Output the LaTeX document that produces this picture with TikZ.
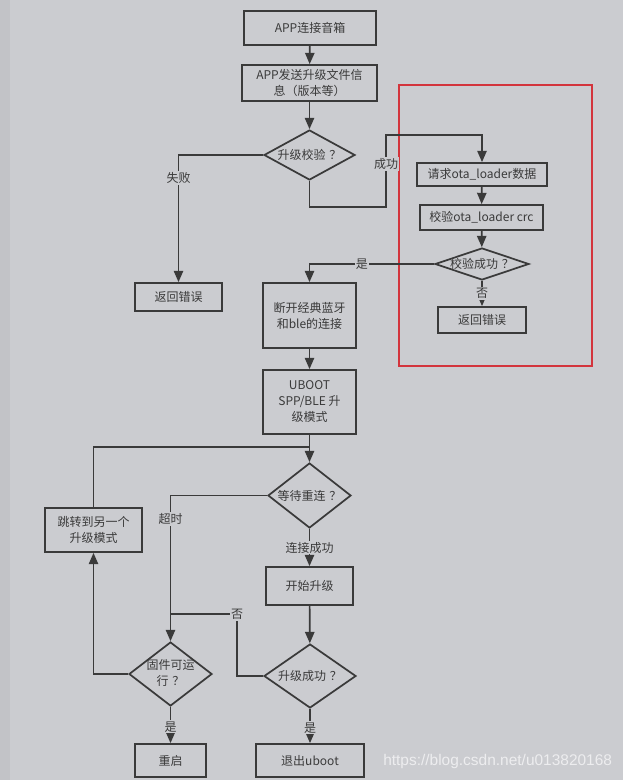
\documentclass[tikz,border=0pt]{standalone}
\usepackage{fontspec}
\usepackage{xcolor}
\usetikzlibrary{arrows.meta,shapes.geometric}
\newfontfamily\cjk{Noto Sans CJK SC}
\newfontfamily\urlfont{Liberation Sans}
\definecolor{FlowBack}{HTML}{CBCCD0}
\definecolor{FlowStrip}{HTML}{C2C3C7}
\definecolor{FlowInk}{HTML}{3A3A3A}
\definecolor{FlowRed}{HTML}{D3343C}
\definecolor{FlowMark}{HTML}{EDEDEF}
% text of a decision is kept out of the diamond's size
\newcommand{\dtext}[1]{\makebox[0pt]{#1}}
\newcommand{\qm}{\kern0.3em？}
\tikzset{
  box/.style={
    draw=FlowInk,
    line width=1.3pt,
    text=FlowInk,
    font=\cjk\fontsize{9}{12}\selectfont,
    align=center,
    inner sep=1pt
  },
  decision/.style={
    box,
    shape=diamond,
    inner sep=0pt
  },
  flow/.style={
    -{Triangle[length=8.5pt,width=7pt]},
    draw=FlowInk,
    line width=1.3pt
  },
  link/.style={
    draw=FlowInk,
    line width=1.3pt
  },
  lab/.style={
    fill=FlowBack,
    text=FlowInk,
    font=\cjk\fontsize{9}{11}\selectfont,
    inner sep=1pt
  },
  watermark/.style={
    text=FlowMark,
    font=\urlfont\fontsize{11.6}{13}\selectfont,
    inner sep=0pt
  }
}

\begin{document}
\begin{tikzpicture}[x=0.75pt,y=-0.75pt]
  \useasboundingbox (0,0) rectangle (623,780);
  \fill[FlowBack] (0,0) rectangle (623,780);
  \fill[FlowStrip] (0,0) rectangle (10,780);

  % main column
  \node[box,minimum width=99pt,minimum height=25.5pt] (connect) at (310,28)
    {APP连接音箱};
  \node[box,minimum width=101.25pt,minimum height=27pt] (info) at (309.5,83)
    {APP发送升级文件信\\息（版本等）};
  \node[decision,minimum width=68.25pt,minimum height=37.5pt] (check)
    at (309.5,155) {\dtext{升级校验\qm}};
  \node[box,minimum width=65.25pt,minimum height=21pt] (failA) at (178.5,297)
    {返回错误};

  % ota_loader check, framed in red
  \draw[FlowRed,line width=1.1pt] (399,85) rectangle (592,366);
  \node[box,minimum width=97.5pt,minimum height=17.25pt] (request)
    at (482,174.5) {请求ota\_loader数据};
  \node[box,minimum width=92.25pt,minimum height=18.75pt] (crc)
    at (481.5,217.5) {校验ota\_loader crc};
  \node[decision,minimum width=70.5pt,minimum height=24pt] (crcok)
    at (482,264) {\dtext{校验成功\qm}};
  \node[box,minimum width=66pt,minimum height=19.5pt] (failB) at (482,320)
    {返回错误};

  \node[box,minimum width=69.75pt,minimum height=48.75pt] (disconnect)
    at (309.5,315.5) {断开经典蓝牙\\和ble的连接};
  \node[box,minimum width=69.75pt,minimum height=48pt] (uboot)
    at (309.5,402) {UBOOT\\SPP/BLE 升\\级模式};
  \node[decision,minimum width=62.25pt,minimum height=48.75pt] (wait)
    at (309.5,495.5) {\dtext{等待重连\qm}};
  \node[box,minimum width=65.25pt,minimum height=28.5pt] (start)
    at (309.5,586) {开始升级};
  \node[decision,minimum width=69pt,minimum height=48pt] (done)
    at (310,676) {\dtext{升级成功\qm}};
  \node[box,minimum width=81pt,minimum height=24.75pt] (quit)
    at (310,760.5) {退出uboot};

  % fallback column
  \node[box,minimum width=72.75pt,minimum height=33pt] (jump) at (93.5,530)
    {跳转到另一个\\升级模式};
  \node[decision,minimum width=62.25pt,minimum height=48pt] (runnable)
    at (170.5,674)
    {\dtext{\begin{tabular}{@{}c@{}}固件可运\\行\qm\end{tabular}}};
  \node[box,minimum width=53.25pt,minimum height=24.75pt] (reboot)
    at (170.5,760.5) {重启};

  \coordinate (okdown) at (309.5,207);
  \coordinate (okup) at (386,135);
  \coordinate (merge) at (309.5,447);
  \coordinate (nobend) at (237,614);
  \coordinate (nojoin) at (170.5,614);

  \draw[flow] (connect) -- (info);
  \draw[flow] (info) -- (check);
  \draw[flow] (check.west) -| node[lab,pos=0.59] {失败} (failA.north);
  \draw[flow] (check.south) -- (okdown) -| node[lab,pos=0.8] {成功} (okup)
    -| (request.north);
  \draw[flow] (request) -- (crc);
  \draw[flow] (crc) -- (crcok);
  \draw[flow] (crcok.south) -- node[lab] {否} (failB.north);
  \draw[flow] (crcok.west) -| node[lab,pos=0.29] {是} (disconnect.north);
  \draw[flow] (disconnect) -- (uboot);
  \draw[flow] (uboot) -- (wait);
  \draw[link] (jump.north) |- (merge);
  \draw[flow] (wait.west) -| node[lab,pos=0.58] {超时} (runnable.north);
  \draw[flow] (wait.south) -- node[lab] {连接成功} (start.north);
  \draw[flow] (start) -- (done);
  \draw[link] (done.west) -| (nobend) -- node[lab,pos=0] {否} (nojoin);
  \draw[flow] (runnable.west) -| (jump.south);
  \draw[flow] (runnable.south) -- node[lab,pos=0.55] {是} (reboot.north);
  \draw[flow] (done.south) -- node[lab,pos=0.55] {是} (quit.north);

  \node[watermark,anchor=west] (site) at (383,761)
    {https://blog.csdn.net/u013820168};
\end{tikzpicture}
\end{document}
